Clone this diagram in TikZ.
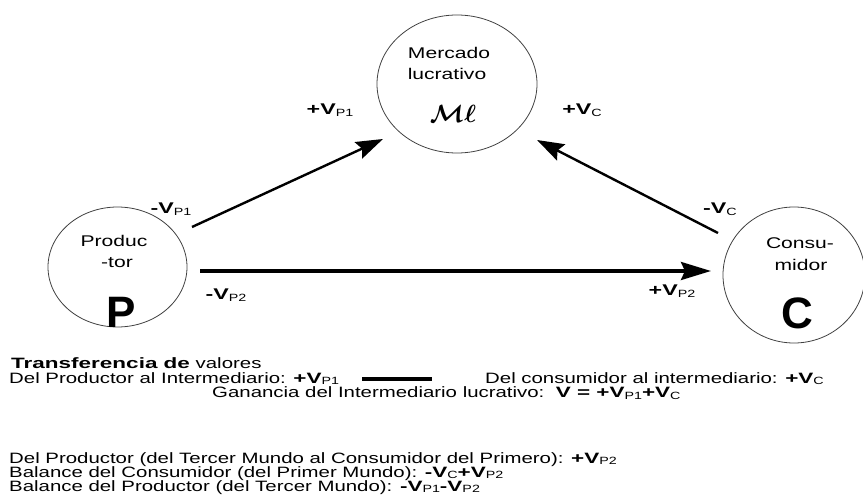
\documentclass[tikz,border=0pt]{standalone}
\usepackage{fontspec}
\setmainfont{Liberation Sans}[FakeStretch=1.36,BoldFeatures={FakeStretch=1.5}]
\newfontfamily\bigsans{Liberation Sans}
\usetikzlibrary{arrows.meta,shapes.geometric}

% value symbol: bold sign and V, plain subscript
\newcommand\vs[2]{\textbf{#1V}\raisebox{-0.2ex}{\fontsize{10.5}{10.5}\selectfont #2}}

\begin{document}
\begin{tikzpicture}[x=1pt,y=-1pt,
  every node/.style={font=\fontsize{15}{15}\selectfont,inner sep=0pt},
  blob/.style={ellipse,draw=black!75,line width=0.8pt},
  vedge/.style={-{Stealth[length=27pt,width=18pt,inset=4pt]},line width=2.4pt},
  hedge/.style={-{Stealth[length=30pt,width=18pt,inset=4pt]},line width=3.4pt},
  lbl/.style={font=\fontsize{15.5}{15.5}\selectfont},
  intxt/.style={font=\fontsize{15.5}{15.5}\selectfont},
  bigl/.style={font=\fontsize{44}{44}\selectfont\bigsans\bfseries},
  mlsty/.style={font=\fontsize{54}{54}\selectfont\boldmath},
  leg/.style={anchor=base west,text height=10pt,text depth=2pt},
]
\useasboundingbox (0,0) rectangle (863,500);
% ---- the three markets ----
\node[blob,minimum width=160pt,minimum height=138pt] (ml) at (457,84) {};
\node[intxt] (merc) at (449,53) {Mercado};
\node[intxt] (lucr) at (447,74) {lucrativo};
\node[mlsty] (mlsym) at (453,114) {$\mathcal{M}\ell$};

\node[blob,minimum width=139pt,minimum height=120pt] (p) at (117.5,267) {};
\node[intxt] (prod) at (114,241) {Produc};
\node[intxt] (ptor) at (117,263) {-tor};
\node[bigl] (pl) at (121,312) {P};

\node[blob,minimum width=142pt,minimum height=136pt] (c) at (794,275) {};
\node[intxt] (cons) at (800,243) {Consu-};
\node[intxt] (cmid) at (801,265) {midor};
\node[bigl] (cl) at (797,313) {C};

% ---- transfers ----
\coordinate (p-up)  at (192,227);
\coordinate (ml-l)  at (383,139);
\coordinate (c-up)  at (718,233);
\coordinate (ml-r)  at (537,140);
\coordinate (p-rt)  at (200,271);
\coordinate (c-lt)  at (711,271);
\draw[vedge] (p-up) -- (ml-l);
\draw[vedge] (c-up) -- (ml-r);
\draw[hedge] (p-rt) -- (c-lt);

\node[lbl] (lp1a) at (171,209) {\vs{-}{P1}};
\node[lbl] (lp1b) at (330,110) {\vs{+}{P1}};
\node[lbl] (lca)  at (720,209) {\vs{-}{C}};
\node[lbl] (lcb)  at (582,110) {\vs{+}{C}};
\node[lbl] (lp2a) at (226,295) {\vs{-}{P2}};
\node[lbl] (lp2b) at (672,291) {\vs{+}{P2}};

% ---- legend ----
\node[leg] (t0) at (11,368) {\textbf{Transferencia de} valores};
\node[leg] (t1) at (9,383) {Del Productor al Intermediario: \vs{+}{P1}};
\draw[line width=3.5pt] (362,379) -- (432,379);
\node[leg] (t2) at (485,383) {Del consumidor al intermediario: \vs{+}{C}};
\node[leg] (t3) at (212,397.5) {Ganancia del Intermediario lucrativo:\ \ \textbf{V = }\vs{+}{P1}\vs{+}{C}};
\node[leg] (t4) at (9,463) {Del Productor (del Tercer Mundo al Consumidor del Primero): \vs{+}{P2}};
\node[leg] (t5) at (9,477) {Balance del Consumidor (del Primer Mundo): \vs{-}{C}\vs{+}{P2}};
\node[leg] (t6) at (9,491) {Balance del Productor (del Tercer Mundo): \vs{-}{P1}\vs{-}{P2}};
\end{tikzpicture}
\end{document}
